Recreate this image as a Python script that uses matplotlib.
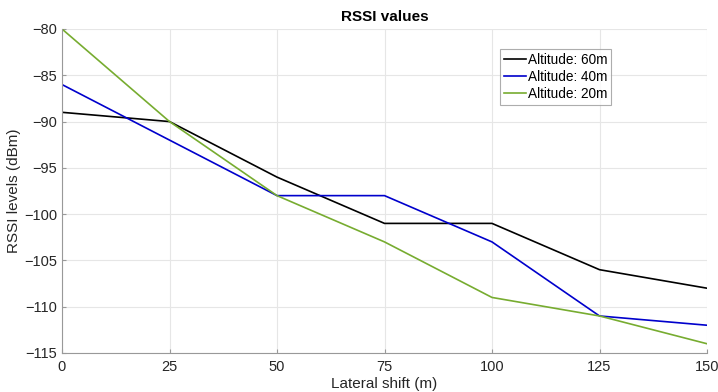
import matplotlib
matplotlib.use('Agg')
import matplotlib.pyplot as plt

# --- DATA ---
lateral_shift = [0, 25, 50, 75, 100, 125, 150]
rssi_60m = [-89, -90, -96, -101, -101, -106, -108]
rssi_40m = [-86, -92, -98, -98, -103, -111, -112]
rssi_20m = [-80, -90, -98, -103, -109, -111, -114]
x_ticks = [0, 25, 50, 75, 100, 125, 150]
y_ticks = [-115, -110, -105, -100, -95, -90, -85, -80]

plt.rcParams['font.family'] = ['Liberation Sans', 'DejaVu Sans']

fig = plt.figure(figsize=(7.18, 3.92), dpi=100)
ax = fig.add_axes([62 / 718, 1 - 353 / 392, (707 - 62) / 718, (353 - 29) / 392])

ax.plot(lateral_shift, rssi_60m, color='black', linewidth=1.2, label='Altitude: 60m')
ax.plot(lateral_shift, rssi_40m, color='#0000cc', linewidth=1.2, label='Altitude: 40m')
ax.plot(lateral_shift, rssi_20m, color='#77ac30', linewidth=1.2, label='Altitude: 20m')

ax.set_xlim(0, 150)
ax.set_ylim(-115, -80)
ax.set_xticks(x_ticks)
ax.set_yticks(y_ticks)
ax.set_yticklabels([f"\u2212{abs(v)}" for v in y_ticks])
ax.grid(True, color='#e6e6e6', linewidth=0.8)
ax.set_axisbelow(True)

for side in ['top', 'right']:
    ax.spines[side].set_visible(False)
for side in ['left', 'bottom']:
    ax.spines[side].set_color('#999999')
ax.tick_params(colors='#262626', labelsize=10.5, length=3, direction='in')
ax.tick_params(axis='x', colors='#999999', labelcolor='#262626', pad=5)
ax.tick_params(axis='y', colors='#999999', labelcolor='#262626')

ax.set_title('RSSI values', fontsize=11, fontweight='bold', pad=6)
ax.set_xlabel('Lateral shift (m)', fontsize=11, color='#262626', labelpad=2)
ax.set_ylabel('RSSI levels (dBm)', fontsize=11, color='#262626', labelpad=2)

leg = ax.legend(loc='upper left', bbox_to_anchor=(0.679, 0.938), fontsize=9.8,
                frameon=True, fancybox=False, handlelength=1.6, handletextpad=0.15,
                borderpad=0.3, labelspacing=0.22, borderaxespad=0)
leg.get_frame().set_edgecolor('#999999')
leg.get_frame().set_linewidth(0.8)

fig.savefig('out.png', dpi=100)
